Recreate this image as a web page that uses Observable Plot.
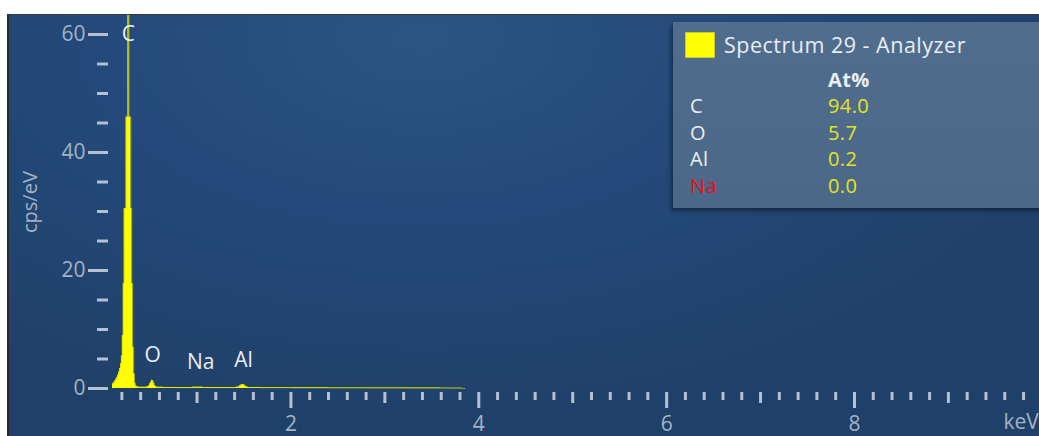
<!DOCTYPE html>
<html><head><meta charset="utf-8">
<script src="https://cdn.jsdelivr.net/npm/d3@7"></script>
<script src="https://cdn.jsdelivr.net/npm/@observablehq/plot@0.6"></script>
<style>
html,body{margin:0;padding:0;background:#fff;overflow:hidden;}
#wrap{position:relative;width:1039px;height:436px;font-family:"Open Sans","Noto Sans",sans-serif;}
#panel{position:absolute;left:7px;top:14px;width:1032px;height:422px;box-sizing:border-box;border-left:2px solid #2a2a2a;border-top:1.5px solid #3a3a3a;
  background:radial-gradient(ellipse 70% 95% at 40% 5%, #2a5681 0%, #24497a 45%, #1f4068 100%);}
#chart{position:absolute;left:0;top:0;}
#legend{position:absolute;left:673px;top:22px;width:380px;height:186px;background:linear-gradient(180deg,#506d8e,#4c6888);box-shadow:-2px 3px 4px rgba(0,0,0,0.4);color:#e9eef4;font-size:20px;letter-spacing:0.4px;}
#legend div{position:absolute;white-space:nowrap;line-height:1;}
#sw{left:12px;top:10px;width:28px;height:24px;background:#ffff00;border:1px solid #c8c830;}
</style></head>
<body><div id="wrap"><div id="panel"></div><div id="chart"></div><div id="legend"></div></div>
<script>
// spectrum channels (keV) and counts (cps/eV)
const energy = [0.08,0.09,0.10,0.11,0.12,0.13,0.14,0.15,0.16,0.17,0.18,0.19,0.20,0.21,0.22,0.23,0.24,0.25,0.26,0.27,0.28,0.29,0.30,0.31,0.32,0.33,0.34,0.35,0.37,0.40,0.45,0.48,0.49,0.50,0.51,0.52,0.53,0.54,0.55,0.56,0.58,0.70,0.90,1.00,1.04,1.08,1.20,1.40,1.44,1.46,1.48,1.50,1.52,1.55,1.80,2.20,2.60,3.00,3.40,3.80,3.85,4.60,9.97];
const cps    = [0,0.4,0.7,0.9,1.1,1.3,1.6,1.9,2.3,2.8,3.4,4.2,5.5,9,17.8,30.5,30.5,46,46,70,46,46,30.5,17.8,7,2.5,0.9,0.4,0.25,0.2,0.2,0.3,0.5,0.8,1.1,1.4,1.3,0.9,0.5,0.3,0.2,0.18,0.16,0.2,0.22,0.18,0.16,0.16,0.25,0.45,0.68,0.6,0.35,0.18,0.14,0.12,0.1,0.09,0.08,0.06,0.02,0.01,0];

// peak annotations
const peakNames = ["C","O","Na","Al"];
const peakEnergy = [0.27,0.527,1.04,1.496];
const peakLabelY = [60,5.6,4.4,4.75];

// axis ticks
const yMajor = [0,20,40,60];
const yMinor = [5,10,15,25,30,35,45,50,55];
const xMajor = [2,4,6,8];
const xMid = [1,3,5,7,9];
const xMinor = d3.range(1,50).map(i => i/5).filter(v => Math.abs(v - Math.round(v)) > 1e-6);

// legend
const legendTitle = "Spectrum 29 - Analyzer";
const elements = ["C","O","Al","Na"];
const atPercent = ["94.0","5.7","0.2","0.0"];
const elementColors = ["#e9eef4","#e9eef4","#e9eef4","#e41414"];

const spec = energy.map((e,i) => ({e, c: cps[i]}));
const peaks = peakNames.map((n,i) => ({n, e: peakEnergy[i], y: peakLabelY[i]}));

const tickStroke = "#b3c1d3", tickText = "#a3b3c7";
const FS = 21;
const chart = Plot.plot({
  width: 1039, height: 436,
  marginLeft: 112, marginRight: 0, marginTop: 15, marginBottom: 44,
  style: {background: "transparent", fontFamily: "'Open Sans', sans-serif", fontSize: FS + "px", overflow: "visible"},
  x: {domain: [0.1, 9.97]},
  y: {domain: [-0.678, 63.22]},
  marks: [
    Plot.areaY(spec, {x: "e", y: "c", curve: "step", fill: "#ffff00", clip: true}),
    Plot.lineY(spec.filter(d => d.e <= 3.85), {x: "e", y: "c", curve: "step", stroke: "#d8d800", strokeWidth: 1, strokeOpacity: 0.7, clip: true}),
    Plot.axisY({ticks: yMajor, tickSize: 20, tickPadding: 3, dx: -4, stroke: tickStroke, color: tickText, strokeWidth: 3, fontSize: FS, label: null}),
    Plot.axisY({ticks: yMinor, tickSize: 11, dx: -4, stroke: tickStroke, strokeWidth: 3, tickFormat: () => "", label: null}),
    Plot.axisX({ticks: xMajor, tickSize: 16, tickPadding: 8, stroke: tickStroke, color: tickText, strokeWidth: 3, fontSize: FS, label: null}),
    Plot.axisX({ticks: xMid, tickSize: 11, stroke: tickStroke, strokeWidth: 3, tickFormat: () => "", label: null}),
    Plot.axisX({ticks: xMinor, tickSize: 8, stroke: tickStroke, strokeWidth: 3, tickFormat: () => "", label: null}),
    Plot.text(peaks, {x: "e", y: "y", text: "n", fill: "#e8eef4", fontSize: FS}),
    Plot.text(["cps/eV"], {frameAnchor: "left", rotate: -90, dx: -82, dy: 29, fill: tickText, fontSize: 20}),
    Plot.text(["keV"], {frameAnchor: "bottom-right", textAnchor: "start", dx: -36, dy: 36, fill: tickText, fontSize: FS})
  ]
});
document.getElementById("chart").appendChild(chart);

// legend box
const lg = document.getElementById("legend");
const add = (txt, css) => { const d = document.createElement("div"); d.textContent = txt; Object.assign(d.style, css); lg.appendChild(d); return d; };
const sw = document.createElement("div"); sw.id = "sw"; lg.appendChild(sw);
add(legendTitle, {left: "51px", top: "12px", fontSize: "21.5px", letterSpacing: "0.5px"});
add("At%", {left: "155px", top: "48px", fontWeight: "700"});
elements.forEach((el, i) => {
  add(el, {left: "17px", top: (74 + i * 26.7) + "px", color: elementColors[i]});
  add(atPercent[i], {left: "155px", top: (74 + i * 26.7) + "px", color: "#e4e41e"});
});
</script></body></html>
